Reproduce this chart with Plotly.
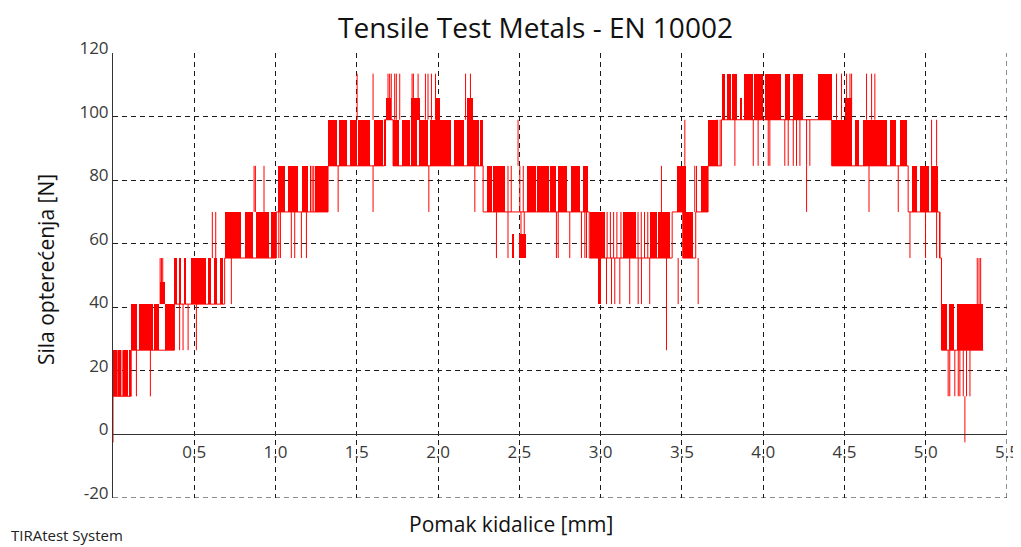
"""
Tensile test chart (TIRAtest export look)
Force vs. crosshead displacement, quantised load cell signal
"""

import plotly.graph_objects as go

# dense toggling regions of the signal: start, end, low level, high level
band_x0 = [0.000, 0.030, 0.060, 0.100, 0.112, 0.160, 0.205, 0.255, 0.287, 0.318,
           0.378, 0.405, 0.435, 0.482, 0.590, 0.620, 0.660, 0.687, 0.810, 0.880,
           0.970, 1.015, 1.075, 1.160, 1.245,
           1.323, 1.390, 1.455, 1.510, 1.605, 1.670, 1.682, 1.723, 1.775, 1.836,
           1.836, 1.880, 1.950, 1.985, 2.095, 2.180, 2.175, 2.260, 2.298, 2.340,
           2.455, 2.500, 2.544, 2.610, 2.690,
           2.740, 2.815, 2.890, 2.934, 2.985, 3.138, 3.302, 3.355, 3.470, 3.508,
           3.620, 3.661, 3.744, 3.775, 3.810, 3.860, 3.880, 3.945, 4.010,
           4.041, 4.133, 4.185, 4.339, 4.421, 4.505, 4.565, 4.615, 4.780, 4.840,
           4.913, 4.965, 5.035, 5.097, 5.145, 5.195]
band_x1 = [0.022, 0.052, 0.095, 0.112, 0.150, 0.200, 0.245, 0.285, 0.318, 0.378,
           0.392, 0.420, 0.450, 0.574, 0.600, 0.640, 0.675, 0.790, 0.860, 0.960,
           1.005, 1.060, 1.140, 1.200, 1.323,
           1.375, 1.440, 1.500, 1.580, 1.660, 1.682, 1.712, 1.760, 1.830, 1.887,
           1.870, 1.940, 2.080, 2.010, 2.160, 2.215, 2.250, 2.277, 2.330, 2.410,
           2.470, 2.540, 2.600, 2.680, 2.725,
           2.790, 2.870, 2.925, 3.026, 3.000, 3.220, 3.345, 3.425, 3.528, 3.569,
           3.661, 3.720, 3.765, 3.800, 3.840, 3.870, 3.935, 4.000, 4.070,
           4.112, 4.164, 4.246, 4.421, 4.545, 4.545, 4.590, 4.760, 4.820, 4.882,
           4.945, 5.020, 5.077, 5.130, 5.175, 5.354]
band_lo = [12, 12, 12, 12, 26.5, 26.5, 26.5, 26.5, 41, 26.5,
           41, 41, 41, 41, 41, 41, 41, 55.5, 55.5, 55.5,
           55.5, 70, 70, 70, 70,
           84.5, 84.5, 84.5, 84.5, 84.5, 84.5, 99, 84.5, 84.5, 99,
           84.5, 84.5, 84.5, 99, 84.5, 99, 84.5, 84.5, 70, 70,
           55.5, 55.5, 70, 70, 70,
           70, 70, 70, 55.5, 41, 55.5, 55.5, 55.5, 70, 55.5,
           70, 84.5, 99, 99, 99, 99, 99, 99, 99,
           99, 99, 99, 99, 84.5, 99, 84.5, 84.5, 84.5, 84.5,
           70, 70, 70, 26.5, 26.5, 26.5]
band_hi = [26.5, 26.5, 26.5, 26.5, 41, 41, 41, 41, 48, 41,
           55.5, 55.5, 55.5, 55.5, 55.5, 55.5, 55.5, 70, 70, 70,
           70, 84.5, 84.5, 84.5, 84.5,
           99, 99, 99, 99, 99, 99, 106, 99, 99, 106,
           99, 99, 99, 106, 99, 106, 99, 99, 84.5, 84.5,
           63, 63, 84.5, 84.5, 84.5,
           84.5, 84.5, 84.5, 70, 55.5, 70, 70, 70, 84.5, 70,
           84.5, 99, 113.5, 113.5, 113.5, 106, 113.5, 113.5, 113.5,
           113.5, 113.5, 113.5, 113.5, 99, 106, 99, 99, 99, 99,
           84.5, 84.5, 84.5, 41, 41, 41]

# single strokes / spikes: position, low, high
stroke_x = [0.000, 0.026, 0.056, 0.144, 0.230, 0.290, 0.298, 0.306, 0.410, 0.431,
            0.462, 0.513, 0.611, 0.632, 0.728, 0.868, 0.876, 0.929, 1.020, 1.030,
            1.097, 1.118, 1.159, 1.190, 1.215, 1.225, 1.235,
            1.385, 1.502, 1.600, 1.600, 1.692, 1.702, 1.712, 1.733, 1.743, 1.764,
            1.840, 1.848, 1.877, 1.922, 1.938, 1.959, 1.984, 2.169, 2.199, 1.943,
            2.226, 2.359, 2.430, 2.492, 2.430, 2.450, 2.503, 2.524, 2.510, 2.530,
            2.739,
            2.728, 2.810, 2.882, 2.903, 2.913, 3.036, 3.067, 3.087, 3.118, 3.179,
            3.231, 3.251, 3.302, 3.040, 3.060, 3.080, 3.100, 3.125, 3.230, 3.250,
            3.270, 3.290, 3.405, 3.374, 3.477, 3.600, 3.518, 3.579, 3.590, 3.710,
            3.720, 3.735, 3.826, 3.939, 3.969, 4.031,
            4.041, 4.133, 4.154, 4.185, 4.205, 4.226, 4.267, 4.267, 4.287, 4.451,
            4.482, 4.513, 4.534, 4.544, 4.636, 4.667, 4.687, 4.651, 4.831, 4.903,
            4.999, 5.067, 5.036, 5.067, 5.088, 5.097, 5.138, 5.148, 5.179, 5.200,
            5.210, 5.231, 5.251, 5.272, 5.241, 5.317, 5.328, 5.338]
stroke_lo = [-2.5, 12, 12, 12, 12, 41, 41, 41, 26.5, 26.5,
             26.5, 26.5, 55.5, 55.5, 41, 70, 70, 70, 55.5, 55.5,
             55.5, 55.5, 55.5, 55.5, 70, 70, 70,
             70, 99, 99, 70, 99, 99, 99, 99, 99, 99,
             99, 99, 99, 99, 99, 99, 99, 99, 99, 70,
             70, 55.5, 55.5, 84.5, 70, 70, 70, 70, 55.5, 55.5,
             55.5,
             55.5, 55.5, 55.5, 55.5, 55.5, 41, 41, 41, 41, 41,
             41, 41, 41, 55.5, 55.5, 55.5, 55.5, 55.5, 55.5, 55.5,
             55.5, 55.5, 26.5, 70, 41, 41, 84.5, 70, 70, 84.5,
             84.5, 84.5, 84.5, 84.5, 84.5, 84.5,
             84.5, 84.5, 84.5, 84.5, 84.5, 84.5, 70, 84.5, 84.5, 99,
             99, 99, 99, 99, 99, 99, 99, 70, 70, 55.5,
             55.5, 55.5, 84.5, 84.5, 55.5, 41, 12, 12, 12, 12,
             12, 12, 12, 12, -2.5, 41, 41, 41]
stroke_hi = [26.5, 26.5, 26.5, 26.5, 26.5, 55.5, 55.5, 55.5, 41, 41,
             41, 41, 70, 70, 55.5, 84.5, 84.5, 84.5, 70, 70,
             70, 70, 70, 70, 84.5, 84.5, 84.5,
             84.5, 113.5, 113.5, 84.5, 113.5, 113.5, 113.5, 113.5, 113.5, 113.5,
             113.5, 113.5, 113.5, 113.5, 113.5, 113.5, 113.5, 113.5, 113.5, 84.5,
             84.5, 70, 70, 99, 84.5, 84.5, 84.5, 84.5, 70, 70,
             70,
             70, 70, 70, 70, 70, 55.5, 55.5, 55.5, 55.5, 55.5,
             55.5, 55.5, 55.5, 70, 70, 70, 70, 70, 70, 70,
             70, 70, 55.5, 84.5, 55.5, 55.5, 99, 84.5, 84.5, 99,
             99, 99, 99, 99, 99, 99,
             99, 99, 99, 99, 99, 99, 84.5, 99, 99, 113.5,
             113.5, 113.5, 113.5, 113.5, 113.5, 113.5, 113.5, 84.5, 84.5, 70,
             70, 70, 99, 99, 70, 55.5, 26.5, 26.5, 26.5, 26.5,
             26.5, 26.5, 26.5, 26.5, 12, 55.5, 55.5, 55.5]

# resting level of the signal between the dense parts (step line)
base_x = [0.000, 0.112, 0.378, 0.687, 1.005, 1.323, 1.670, 1.723, 2.277, 2.930,
          3.440, 3.505, 3.585, 3.661, 3.743, 4.421, 4.892, 5.085, 5.097, 5.354]
base_y = [12, 26.5, 41, 55.5, 70, 84.5, 99, 84.5, 70, 55.5,
          70, 55.5, 70, 84.5, 99, 84.5, 70, 55.5, 26.5, 26.5]

x_ticks = [0.5, 1.0, 1.5, 2.0, 2.5, 3.0, 3.5, 4.0, 4.5, 5.0, 5.5]
y_ticks = [-20, 0, 20, 40, 60, 80, 100, 120]

RED = '#ff0000'
GRID = '#1a1a1a'
DASH = '5px,4px'

# the page body has an 8px margin, so the figure is 8px smaller than the window
W, H = 1013, 539
PLOT_L, PLOT_R, PLOT_T, PLOT_B = 113, 1007, 53, 498   # window pixels


def px(wx, wy):
    """window pixel -> paper coords"""
    return ((wx - PLOT_L) / (PLOT_R - PLOT_L), (PLOT_B - wy) / (PLOT_B - PLOT_T))


fig = go.Figure()

fig.add_trace(go.Bar(
    x=[(a + b) / 2 for a, b in zip(band_x0, band_x1)],
    width=[b - a for a, b in zip(band_x0, band_x1)],
    base=band_lo,
    y=[h - l for l, h in zip(band_lo, band_hi)],
    marker=dict(color=RED, line=dict(width=0)),
    showlegend=False,
    hoverinfo='skip'
))

sx, sy = [], []
for x, lo, hi in zip(stroke_x, stroke_lo, stroke_hi):
    sx += [x, x, None]
    sy += [lo, hi, None]

fig.add_trace(go.Scatter(
    x=sx, y=sy,
    mode='lines',
    line=dict(color=RED, width=1),
    showlegend=False,
    hoverinfo='skip'
))

fig.add_trace(go.Scatter(
    x=base_x, y=base_y,
    mode='lines',
    line=dict(color=RED, width=1, shape='hv'),
    showlegend=False,
    hoverinfo='skip'
))

tick_font = dict(family='Open Sans', size=17, color='#3a3a3a')
label_font = dict(family='Open Sans', size=21, color='#111111')

# frame: dashed bottom and right edges
fig.add_shape(type='line', xref='paper', yref='y', x0=0, x1=1, y0=-20, y1=-20,
              line=dict(color=GRID, width=1, dash=DASH), layer='below')
fig.add_shape(type='line', xref='x', yref='paper', x0=5.5, x1=5.5, y0=0, y1=1,
              line=dict(color=GRID, width=1, dash=DASH), layer='below')

tx, ty = px(535, 27)
ax_, ay_ = px(511, 524)
yx, yy = px(46, 270)
sx0, sy0 = px(9, 535)

fig.update_layout(
    width=W,
    height=H,
    margin=dict(l=PLOT_L - 8, r=8 + W - PLOT_R, t=PLOT_T - 8, b=8 + H - PLOT_B,
                autoexpand=False),
    plot_bgcolor='white',
    paper_bgcolor='white',
    barmode='overlay',
    bargap=0,
    showlegend=False,
    xaxis=dict(
        range=[0, 5.5],
        tickvals=x_ticks,
        ticktext=['%.1f' % v for v in x_ticks],
        tickfont=tick_font,
        showgrid=True,
        gridcolor=GRID,
        griddash=DASH,
        gridwidth=1,
        zeroline=False,
        showline=True,
        linecolor='#333333',
        linewidth=1,
        anchor='free',
        position=20 / 140,
        ticks='',
        ticklabelstandoff=2,
        automargin=False,
        fixedrange=True
    ),
    yaxis=dict(
        range=[-20, 120],
        tickvals=y_ticks,
        ticktext=[str(v) for v in y_ticks],
        tickfont=tick_font,
        showgrid=True,
        gridcolor=GRID,
        griddash=DASH,
        gridwidth=1,
        zeroline=False,
        showline=True,
        linecolor='#333333',
        linewidth=1,
        ticks='',
        ticklabelstandoff=0,
        ticklabelshift=-5,
        domain=[0, 1],
        automargin=False,
        fixedrange=True
    ),
    annotations=[
        dict(text='Tensile Test Metals - EN 10002', xref='paper', yref='paper',
             x=tx, y=ty, xanchor='center', yanchor='middle', showarrow=False,
             font=dict(family='Open Sans', size=28, color='#111111')),
        dict(text='Pomak kidalice [mm]', xref='paper', yref='paper',
             x=ax_, y=ay_, xanchor='center', yanchor='middle', showarrow=False,
             font=label_font),
        dict(text='Sila opterećenja [N]', xref='paper', yref='paper', textangle=-90,
             x=yx, y=yy, xanchor='center', yanchor='middle', showarrow=False,
             font=label_font),
        dict(text='TIRAtest System', xref='paper', yref='paper',
             x=sx0, y=sy0, xanchor='left', yanchor='middle', showarrow=False,
             font=dict(family='Open Sans', size=15, color='#222222')),
    ]
)

fig.write_html("out.html")
